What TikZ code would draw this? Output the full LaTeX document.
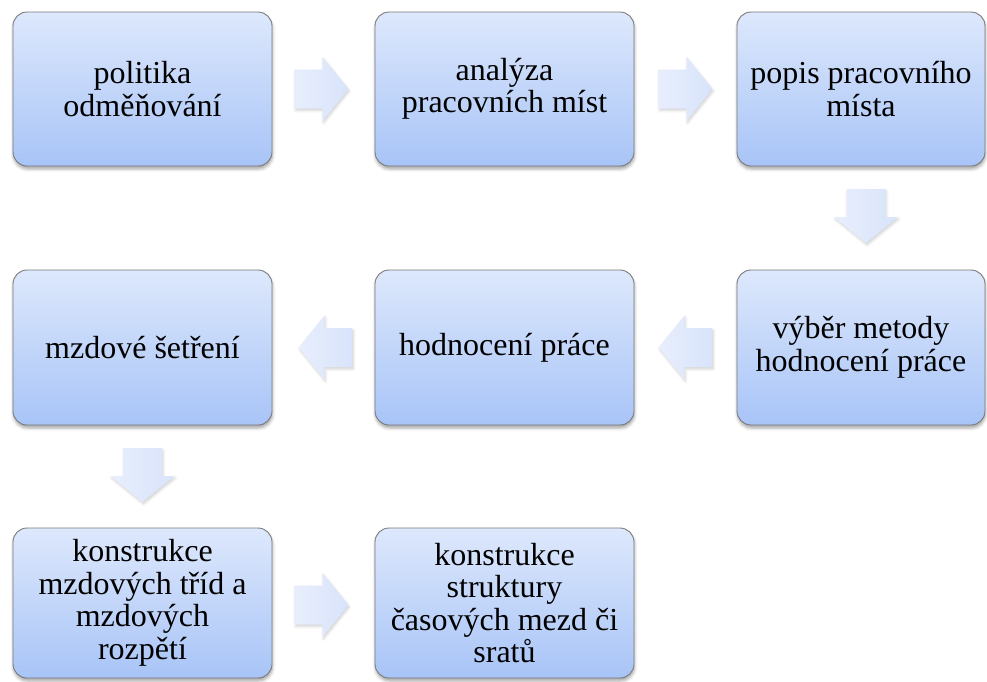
\documentclass[tikz,border=0pt]{standalone}
\usepackage{fontspec}
\setmainfont{Liberation Serif}
\usetikzlibrary{shadows.blur,calc}

\definecolor{boxtop}{HTML}{DDE8FC}
\definecolor{boxbot}{HTML}{A8C4F7}
\definecolor{boxline}{HTML}{7A7A7A}
\definecolor{arrowlight}{HTML}{E8EEFC}
\definecolor{arrowdark}{HTML}{D8E3FB}

\tikzset{
  stagebox/.style={
    rectangle, rounded corners=14pt, draw=boxline, line width=0.9pt,
    top color=boxtop, bottom color=boxbot,
    align=center, inner sep=4pt,
    font=\fontsize{32}{32.5}\selectfont,
    blur shadow={shadow xshift=0.5pt, shadow yshift=-3pt,
                 shadow blur radius=3pt, shadow opacity=35}},
  % block arrow pointing along +x, centred on the pic origin
  blockarrow/.pic={
    \path[left color=arrowlight, right color=arrowdark,
          blur shadow={shadow xshift=1pt, shadow yshift=-2pt,
                       shadow blur radius=2.5pt, shadow opacity=18}]
      (-27,-19.5) -- (1,-19.5) -- (1,-32) -- (27,0) -- (1,32)
      -- (1,19.5) -- (-27,19.5) -- cycle;
  }
}

\begin{document}
\begin{tikzpicture}[x=1pt, y=-1pt]
  \useasboundingbox (0,0) rectangle (987,681);

  % stages, row by row
  \node[stagebox, minimum width=259pt, minimum height=154pt] (b1) at (142.5,89)
    {politika\\odměňování};
  \node[stagebox, minimum width=259pt, minimum height=154pt] (b2) at (504.5,89)
    {analýza\\pracovních míst};
  \node[stagebox, minimum width=248pt, minimum height=154pt] (b3) at (861,89)
    {popis pracovního\\místa};

  \node[stagebox, minimum width=248pt, minimum height=155pt] (b4) at (861,347.5)
    {výběr metody\\hodnocení práce};
  \node[stagebox, minimum width=259pt, minimum height=155pt] (b5) at (504.5,347.5)
    {hodnocení práce};
  \node[stagebox, minimum width=259pt, minimum height=155pt] (b6) at (142.5,347.5)
    {mzdové šetření};

  \node[stagebox, minimum width=259pt, minimum height=150pt] (b7) at (142.5,603)
    {konstrukce\\mzdových tříd a\\mzdových\\rozpětí};
  \node[stagebox, minimum width=259pt, minimum height=150pt] (b8) at (504.5,603)
    {konstrukce\\struktury\\časových mezd či\\sratů};

  % block arrows between consecutive stages
  \pic at ($(b1.east)!0.5!(b2.west)+(-2,0)$) {blockarrow};
  \pic at ($(b2.east)!0.5!(b3.west)$) {blockarrow};
  \pic[rotate=-90] at ($(b3.south)!0.5!(b4.north)+(5,-2)$) {blockarrow};
  \pic[rotate=180] at ($(b4.west)!0.5!(b5.east)$) {blockarrow};
  \pic[rotate=180] at ($(b5.west)!0.5!(b6.east)+(2,0)$) {blockarrow};
  \pic[rotate=-90] at ($(b6.south)!0.5!(b7.north)+(0,-1.5)$) {blockarrow};
  \pic at ($(b7.east)!0.5!(b8.west)+(-2,2)$) {blockarrow};
\end{tikzpicture}
\end{document}
